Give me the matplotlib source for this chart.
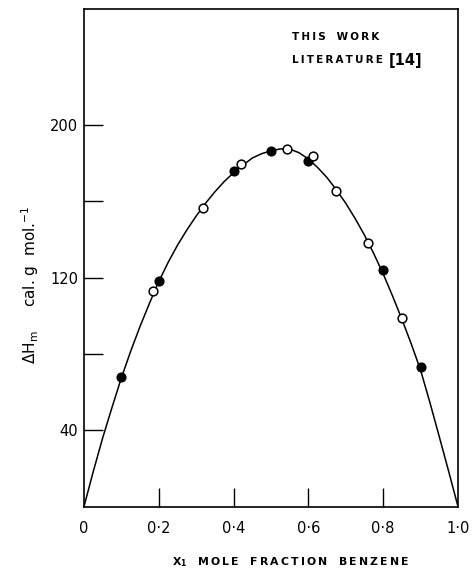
# Excess enthalpy of mixing vs. mole fraction of benzene
# points, smooth curve traced by eye

import matplotlib.pyplot as plt

# This work (filled circles)
x_this = [0.10, 0.20, 0.40, 0.50, 0.60, 0.80, 0.90]
h_this = [68, 118, 176, 186.5, 181, 124, 73]

# Literature [14] (open circles)
x_lit = [0.185, 0.318, 0.42, 0.542, 0.612, 0.675, 0.76, 0.851]
h_lit = [113, 156.5, 179.5, 187.5, 184, 165.5, 138, 99]

# fitted curve
x_curve = [0.0, 0.025, 0.05, 0.075, 0.1, 0.125, 0.15, 0.175, 0.2, 0.225,
           0.25, 0.275, 0.3, 0.325, 0.35, 0.375, 0.4, 0.425, 0.45, 0.475,
           0.5, 0.525, 0.55, 0.575, 0.6, 0.625, 0.65, 0.675, 0.7, 0.725,
           0.75, 0.775, 0.8, 0.825, 0.85, 0.875, 0.9, 0.925, 0.95, 0.975, 1.0]
h_curve = [0, 18.5, 36, 52, 67.5, 81.5, 94.5, 106.5, 118, 128,
           137, 145, 152.3, 159, 165, 170.4, 175, 179, 182.7, 185,
           186.5, 187.5, 187.4, 185.5, 182.2, 177.7, 172.4, 166, 159, 151,
           142.3, 132.5, 122, 110.4, 98.2, 85.3, 71.5, 54.5, 36.6, 18.5, 0]

xticks = [0, 0.2, 0.4, 0.6, 0.8, 1.0]
xtick_labels = ['0', '0·2', '0·4', '0·6', '0·8', '1·0']
yticks = [40, 80, 120, 160, 200]
ytick_labels = ['40', '', '120', '', '200']


def spaced(s):
    # the original lettering is stencil-like with wide letter spacing
    return '\u2009'.join(s)


fig = plt.figure(figsize=(4.74, 5.70), dpi=100)
ax = fig.add_axes([0.1772, 0.1114, 0.789, 0.8733])

# curve + points
ax.plot(x_curve, h_curve, color='black', linewidth=1.1, zorder=1)
ax.plot(x_this, h_this, 'o', color='black', markersize=6.3, zorder=3)
ax.plot(x_lit, h_lit, 'o', markerfacecolor='white', markeredgecolor='black',
        markeredgewidth=1.1, markersize=6.3, zorder=3)

ax.set_xlim(0, 1.0)
ax.set_ylim(0, 261)

ax.set_xticks(xticks[1:-1])
ax.set_xticklabels([])
ax.set_yticks(yticks)
ax.set_yticklabels(ytick_labels, fontsize=10.5)
ax.tick_params(axis='both', direction='in', length=14, width=1.0)
ax.tick_params(axis='y', pad=4)

# x tick labels placed under the axis (0 and 1.0 sit at the corners)
for xv, lab in zip(xticks, xtick_labels):
    ax.text(xv, -0.045, lab, transform=ax.get_xaxis_transform(),
            ha='center', va='center', fontsize=10.5)

for side in ['left', 'bottom', 'right', 'top']:
    ax.spines[side].set_linewidth(1.2)

# axis titles
fig.text(291 / 474, 1 - 562 / 570,
         r'X$_\mathbf{1}$   ' + spaced('MOLE') + '   ' + spaced('FRACTION') + '   ' + spaced('BENZENE'),
         ha='center', va='center', fontsize=7.8, fontweight='bold')
fig.text(30 / 474, 1 - 285 / 570,
         r'$\Delta$H$_\mathrm{m}$     cal. g  mol.$^{-1}$',
         rotation=90, ha='center', va='center', fontsize=11)

# legend (the symbols did not print in the original)
fig.text(292 / 474, 1 - 37 / 570, spaced('THIS') + '   ' + spaced('WORK'),
         ha='left', va='center', fontsize=7.5, fontweight='bold')
fig.text(292 / 474, 1 - 60 / 570, spaced('LITERATURE'),
         ha='left', va='center', fontsize=7.5, fontweight='bold')
fig.text(389 / 474, 1 - 60 / 570, '[14]', ha='left', va='center', fontsize=10.5,
         fontweight='bold')

fig.savefig('out.png', dpi=100)
